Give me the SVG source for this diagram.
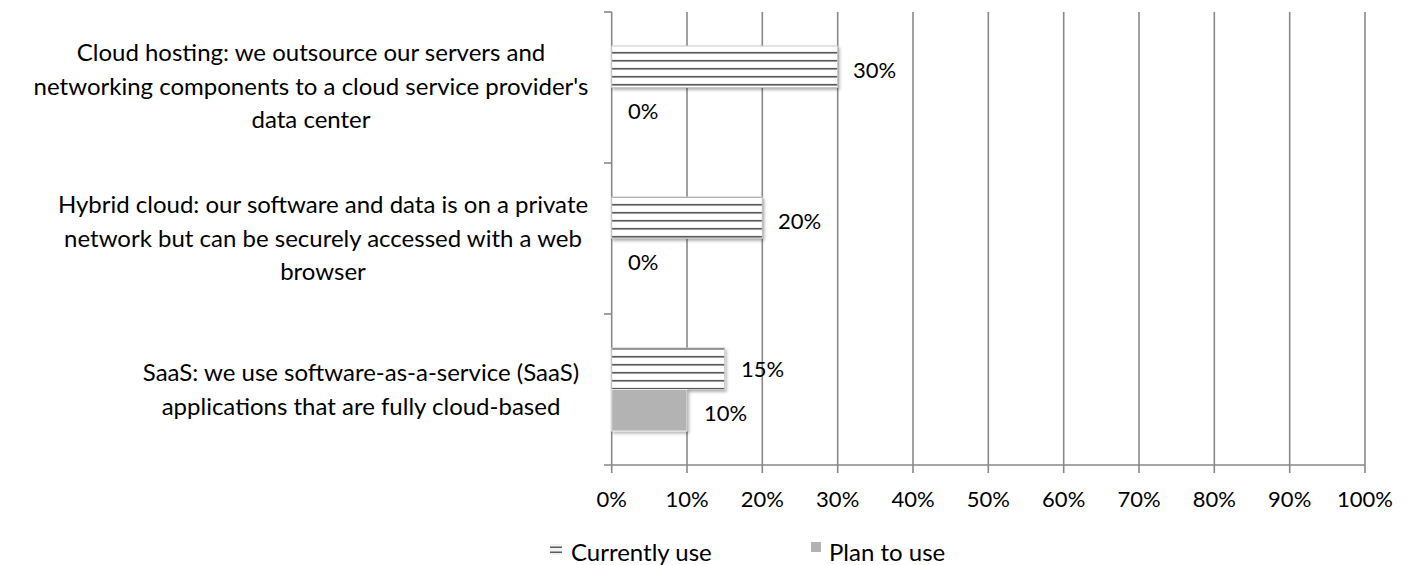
<svg xmlns="http://www.w3.org/2000/svg" width="1413" height="565" viewBox="0 0 1413 565">
  <style>
    text { font-family: Lato, "Open Sans", "Liberation Sans", sans-serif; fill: #000; }
    .cat { font-size: 24px; text-anchor: middle; }
    .tick { font-size: 22px; text-anchor: middle; }
    .dl { font-size: 22px; }
    .leg { font-size: 24px; }
    .grid { stroke: #898989; stroke-width: 1.6; fill: none; }
    .cur { fill: url(#stripes); stroke: #c9c9c9; stroke-width: 1; filter: url(#shadow); }
    .plan { fill: #b3b3b3; stroke: #e8e8e8; stroke-width: 1; filter: url(#shadow); }
  </style>
  <defs>
    <pattern id="stripes" patternUnits="userSpaceOnUse" x="0" y="0" width="8" height="8">
      <rect x="0" y="0" width="8" height="8" fill="#ffffff"/>
      <rect x="0" y="3.9" width="8" height="1.7" fill="#5a5a5a"/>
    </pattern>
    <filter id="shadow" x="-10%" y="-20%" width="130%" height="160%">
      <feDropShadow dx="1.5" dy="2" stdDeviation="1.5" flood-color="#000" flood-opacity="0.3"/>
    </filter>
  </defs>
  <rect width="1413" height="565" fill="#ffffff"/>

  <g id="gridlines">
    <line class="grid" x1="687" y1="12" x2="687" y2="465"/>
    <line class="grid" x1="762.3" y1="12" x2="762.3" y2="465"/>
    <line class="grid" x1="837.7" y1="12" x2="837.7" y2="465"/>
    <line class="grid" x1="913" y1="12" x2="913" y2="465"/>
    <line class="grid" x1="988.3" y1="12" x2="988.3" y2="465"/>
    <line class="grid" x1="1063.7" y1="12" x2="1063.7" y2="465"/>
    <line class="grid" x1="1139" y1="12" x2="1139" y2="465"/>
    <line class="grid" x1="1214.3" y1="12" x2="1214.3" y2="465"/>
    <line class="grid" x1="1289.7" y1="12" x2="1289.7" y2="465"/>
    <line class="grid" x1="1365" y1="12" x2="1365" y2="465"/>
  </g>

  <g id="axes">
    <line class="grid" x1="611.7" y1="12" x2="611.7" y2="465"/>
    <line class="grid" x1="604" y1="12" x2="611.7" y2="12"/>
    <line class="grid" x1="604" y1="163" x2="611.7" y2="163"/>
    <line class="grid" x1="604" y1="314" x2="611.7" y2="314"/>
    <line class="grid" x1="604" y1="465" x2="1365" y2="465"/>
    <line class="grid" x1="611.7" y1="465" x2="611.7" y2="473"/>
    <line class="grid" x1="687" y1="465" x2="687" y2="473"/>
    <line class="grid" x1="762.3" y1="465" x2="762.3" y2="473"/>
    <line class="grid" x1="837.7" y1="465" x2="837.7" y2="473"/>
    <line class="grid" x1="913" y1="465" x2="913" y2="473"/>
    <line class="grid" x1="988.3" y1="465" x2="988.3" y2="473"/>
    <line class="grid" x1="1063.7" y1="465" x2="1063.7" y2="473"/>
    <line class="grid" x1="1139" y1="465" x2="1139" y2="473"/>
    <line class="grid" x1="1214.3" y1="465" x2="1214.3" y2="473"/>
    <line class="grid" x1="1289.7" y1="465" x2="1289.7" y2="473"/>
    <line class="grid" x1="1365" y1="465" x2="1365" y2="473"/>
  </g>

  <g id="axis-labels">
    <text class="tick" x="611.7" y="507">0%</text>
    <text class="tick" x="687" y="507">10%</text>
    <text class="tick" x="762.3" y="507">20%</text>
    <text class="tick" x="837.7" y="507">30%</text>
    <text class="tick" x="913" y="507">40%</text>
    <text class="tick" x="988.3" y="507">50%</text>
    <text class="tick" x="1063.7" y="507">60%</text>
    <text class="tick" x="1139" y="507">70%</text>
    <text class="tick" x="1214.3" y="507">80%</text>
    <text class="tick" x="1289.7" y="507">90%</text>
    <text class="tick" x="1365" y="507">100%</text>
  </g>

  <g id="category-cloud-hosting">
    <text class="cat" x="311" y="61">Cloud hosting: we outsource our servers and</text>
    <text class="cat" x="311" y="95">networking components to a cloud service provider's</text>
    <text class="cat" x="311" y="128">data center</text>
    <rect class="cur" x="611.7" y="46" width="226" height="41.5"/>
    <text class="dl" x="853" y="77.5">30%</text>
    <text class="dl" x="628" y="119">0%</text>
  </g>

  <g id="category-hybrid-cloud">
    <text class="cat" x="323" y="213">Hybrid cloud: our software and data is on a private</text>
    <text class="cat" x="323" y="247">network but can be securely accessed with a web</text>
    <text class="cat" x="323" y="280">browser</text>
    <rect class="cur" x="611.7" y="197" width="150.6" height="41.5"/>
    <text class="dl" x="778" y="228.5">20%</text>
    <text class="dl" x="628" y="270">0%</text>
  </g>

  <g id="category-saas">
    <text class="cat" x="361" y="381">SaaS: we use software-as-a-service (SaaS)</text>
    <text class="cat" x="361" y="415">applications that are fully cloud-based</text>
    <rect class="cur" x="611.7" y="348" width="113" height="41.5"/>
    <rect class="plan" x="611.7" y="389.5" width="75.3" height="41.5"/>
    <text class="dl" x="741" y="377">15%</text>
    <text class="dl" x="704" y="421">10%</text>
  </g>

  <g id="legend">
    <rect x="550" y="544" width="12" height="11" fill="#f2f2f2"/>
    <rect x="550" y="546.5" width="12" height="1.5" fill="#5a5a5a"/>
    <rect x="550" y="551.5" width="12" height="1.5" fill="#5a5a5a"/>
    <text class="leg" x="571" y="561">Currently use</text>
    <rect x="811" y="542" width="10" height="10" fill="#b3b3b3"/>
    <text class="leg" x="829" y="561">Plan to use</text>
  </g>
</svg>
